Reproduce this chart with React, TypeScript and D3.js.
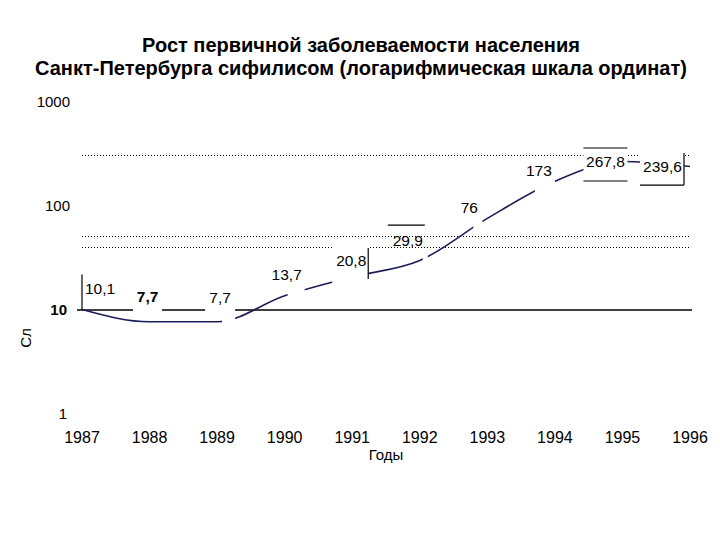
import * as d3 from "d3";

// ---- data ----
const years = [1987, 1988, 1989, 1990, 1991, 1992, 1993, 1994, 1995, 1996];
const incidence = [10.1, 7.7, 7.7, 13.7, 20.8, 29.9, 76, 173, 267.8, 239.6];
const valueLabels = ["10,1", "7,7", "7,7", "13,7", "20,8", "29,9", "76", "173", "267,8", "239,6"];
const yTicks = [1, 10, 100, 1000];
const dottedLevels = [310, 51, 40];

const titleLines = [
  "Рост первичной заболеваемости населения",
  "Санкт-Петербурга сифилисом (логарифмическая шкала ординат)",
];

// label placement relative to its point: white masks, text offset, box borders
type Layout = {
  masks: [number, number, number, number][];
  text: [number, number];
  bold?: boolean;
  borders: [number, number, number, number][]; // x1,y1,x2,y2
};
const labelLayout: Layout[] = [
  { masks: [], text: [18, -15.5], borders: [[0, -35, 0, 0]] },
  { masks: [[-16.6, 12.4, -34, -10]], text: [-2, -20], bold: true, borders: [] },
  { masks: [[-12, 16, -32, -10], [5, 18, -32, 6]], text: [3, -19], borders: [] },
  { masks: [[3, 20, -32, 6]], text: [2, -16], borders: [] },
  { masks: [[-20, 16, -33, 13]], text: [-1, -11], borders: [[16, -29, 16, 2]] },
  { masks: [[3, 8, -10, 8]], text: [-12, -14.5], borders: [[-32, -35.5, 5, -35.5]] },
  { masks: [[-14, -5, -8, 16]], text: [-18, -5.5], borders: [] },
  { masks: [[-20, 0, -11, 19]], text: [-16, -5], borders: [] },
  { masks: [[-39, 5, -13.5, 19.5]], text: [-17, 5.5], borders: [[-39, -13.5, 5, -13.5], [-39, 19.5, 5, 19.5]] },
  { masks: [[-50, -6, -13.5, 18.5]], text: [-27.5, 5.5], borders: [[-50, 18.5, -6, 18.5], [-6, -13.5, -6, 18.5]] },
];

const W = 720;
const H = 540;
const FONT = "'Liberation Sans', Arial, sans-serif";

export default function App() {
  const x = d3.scaleLinear().domain([1987, 1996]).range([82, 690]);
  const y = d3.scaleLog().domain([1, 1000]).range([414, 102]);

  const pts = years.map((yr, i) => [x(yr), y(incidence[i])] as [number, number]);
  const line = d3.line().curve(d3.curveMonotoneX)(pts) ?? "";

  return (
    <svg
      width={W}
      height={H}
      viewBox={`0 0 ${W} ${H}`}
      style={{ position: "absolute", left: 0, top: 0, background: "#fff" }}
      fontFamily={FONT}
    >
      <rect width={W} height={H} fill="#fff" />

      {/* title */}
      {titleLines.map((t, i) => (
        <text key={i} x={361} y={52 + i * 23} textAnchor="middle" fontSize={20} fontWeight="bold" fill="#000">
          {t}
        </text>
      ))}

      {/* dotted reference levels */}
      {dottedLevels.map((v) => (
        <line
          key={v}
          x1={x(1987)}
          x2={x(1996)}
          y1={Math.round(y(v)) + 0.5}
          y2={Math.round(y(v)) + 0.5}
          stroke="#000"
          strokeWidth={1}
          strokeDasharray="1,2"
        />
      ))}

      {/* solid level at 10 */}
      <line x1={77} x2={x(1996) + 2} y1={y(10)} y2={y(10)} stroke="#000" strokeWidth={1.5} />

      {/* data line */}
      <path d={line} fill="none" stroke="#1c1c5a" strokeWidth={1.6} />

      {/* label masks, borders and values */}
      {pts.map(([px, py], i) => {
        const lay = labelLayout[i];
        return (
          <g key={i}>
            {lay.masks.map(([a, b, c, d], j) => (
              <rect key={j} x={px + a} y={py + c} width={b - a} height={d - c} fill="#fff" />
            ))}
            {lay.borders.map(([a, b, c, d], j) => (
              <line key={j} x1={px + a} y1={py + b} x2={px + c} y2={py + d} stroke="#000" strokeWidth={1.2} />
            ))}
            <text
              x={px + lay.text[0]}
              y={py + lay.text[1]}
              textAnchor="middle"
              fontSize={15.5}
              fontWeight={lay.bold ? "bold" : "normal"}
              fill="#000"
            >
              {valueLabels[i]}
            </text>
          </g>
        );
      })}

      {/* y tick labels */}
      {yTicks.map((v) => (
        <text
          key={v}
          x={v >= 100 ? 70 : 67}
          y={y(v)}
          dy="0.35em"
          textAnchor="end"
          fontSize={15}
          fontWeight={v === 10 ? "bold" : "normal"}
          fill="#000"
        >
          {v}
        </text>
      ))}

      {/* y axis title (truncated, as in the source) */}
      <text transform="translate(31,338) rotate(-90)" textAnchor="middle" fontSize={15} fill="#000">
        Сл
      </text>

      {/* x tick labels */}
      {years.map((yr) => (
        <text key={yr} x={x(yr)} y={443} textAnchor="middle" fontSize={16} fill="#000">
          {yr}
        </text>
      ))}
      <text x={386} y={460} textAnchor="middle" fontSize={15} fill="#000">
        Годы
      </text>
    </svg>
  );
}
